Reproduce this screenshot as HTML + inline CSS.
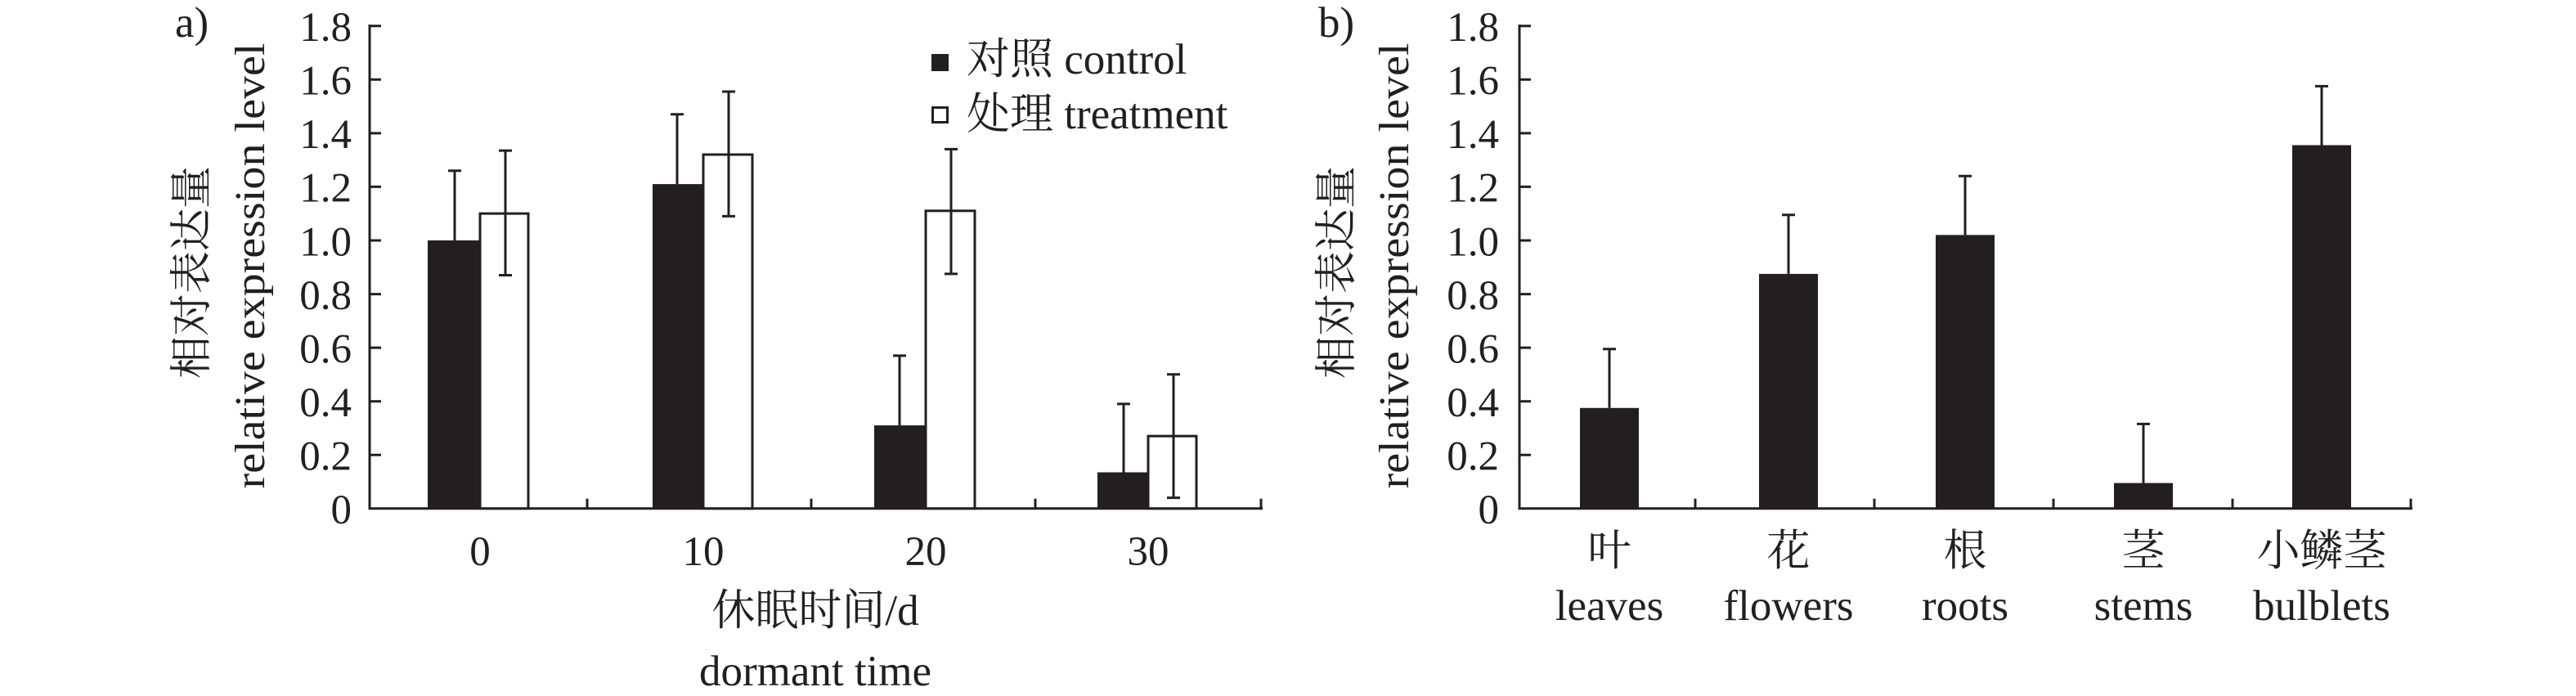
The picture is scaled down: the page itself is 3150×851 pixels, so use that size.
<!DOCTYPE html>
<html><head><meta charset="utf-8"><style>
html,body{margin:0;padding:0;background:#fff;}
svg{display:block;}
text{font-family:"Liberation Serif","Noto Serif CJK SC","Noto Sans CJK SC",serif;fill:#231f20;}
</style></head><body>
<svg width="3150" height="851" viewBox="0 0 3150 851" xmlns="http://www.w3.org/2000/svg">
<g stroke="#231f20" stroke-width="3" fill="none">
<!-- panel a axes -->
<line x1="452" y1="30" x2="452" y2="623"/>
<line x1="450.5" y1="621.7" x2="1544" y2="621.7"/>
<path d="M452 31.7h14M452 97.3h14M452 162.9h14M452 228.4h14M452 294h14M452 359.6h14M452 425.1h14M452 490.7h14M452 556.2h14"/>
<path d="M718 621.7v-12M992 621.7v-12M1266 621.7v-12M1542 621.7v-12"/>
<!-- panel b axes -->
<line x1="1858" y1="30" x2="1858" y2="623"/>
<line x1="1856.5" y1="621.7" x2="2950" y2="621.7"/>
<path d="M1858 31.7h14M1858 97.3h14M1858 162.9h14M1858 228.4h14M1858 294h14M1858 359.6h14M1858 425.1h14M1858 490.7h14M1858 556.2h14"/>
<path d="M2073 621.7v-12M2292 621.7v-12M2511 621.7v-12M2730 621.7v-12M2948 621.7v-12"/>
</g>
<!-- panel a bars: y(v)=621.7-327.8v -->
<g fill="#231f20">
<rect x="523" y="293.9" width="64" height="327.8"/>
<rect x="798" y="225.1" width="62" height="396.6"/>
<rect x="1069" y="520.1" width="63" height="101.6"/>
<rect x="1342" y="577.5" width="62" height="44.2"/>
</g>
<g fill="#fff" stroke="#231f20" stroke-width="3">
<rect x="587" y="261.1" width="59" height="360.6"/>
<rect x="860" y="189" width="60" height="432.7"/>
<rect x="1132" y="257.8" width="60" height="363.9"/>
<rect x="1404" y="533.2" width="59" height="88.5"/>
</g>
<g stroke="#231f20" stroke-width="3" fill="none">
<path d="M556 293.9V208.7M548 208.7h16"/>
<path d="M828 225.1V139.8M820 139.8h16"/>
<path d="M1100 520.1V434.9M1092 434.9h16"/>
<path d="M1374 577.5V493.9M1366 493.9h16"/>
<path d="M618 184.1V336.5M610 184.1h16M610 336.5h16"/>
<path d="M891 112V264.4M883 112h16M883 264.4h16"/>
<path d="M1163 182.4V334.9M1155 182.4h16M1155 334.9h16"/>
<path d="M1435 457.8V608.6M1427 457.8h16M1427 608.6h16"/>
</g>
<!-- panel b bars -->
<g fill="#231f20">
<rect x="1932" y="498.8" width="72" height="122.9"/>
<rect x="2151" y="334.9" width="72" height="286.8"/>
<rect x="2367" y="287.3" width="72" height="334.4"/>
<rect x="2585" y="590.6" width="72" height="31.1"/>
<rect x="2803" y="177.5" width="72" height="444.2"/>
</g>
<g stroke="#231f20" stroke-width="3" fill="none">
<path d="M1968 498.8V426.7M1960 426.7h16"/>
<path d="M2187 334.9V262.8M2179 262.8h16"/>
<path d="M2403 287.3V215.2M2395 215.2h16"/>
<path d="M2621 590.6V518.4M2613 518.4h16"/>
<path d="M2839 177.5V105.4M2831 105.4h16"/>
</g>
<!-- legend -->
<rect x="1139" y="66" width="21" height="21" fill="#231f20"/>
<rect x="1140.5" y="131.5" width="18" height="18" fill="#fff" stroke="#231f20" stroke-width="3"/>
<text x="1182" y="90" font-size="53">对照 control</text>
<text x="1182" y="157" font-size="53">处理 treatment</text>
<!-- panel labels -->
<text x="214" y="45" font-size="53">a)</text>
<text x="1612" y="45" font-size="53">b)</text>
<!-- y tick labels a -->
<g font-size="51" text-anchor="end">
<text x="430" y="50">1.8</text><text x="430" y="115.6">1.6</text><text x="430" y="181.2">1.4</text><text x="430" y="246.7">1.2</text><text x="430" y="312.3">1.0</text><text x="430" y="377.9">0.8</text><text x="430" y="443.4">0.6</text><text x="430" y="509">0.4</text><text x="430" y="574.5">0.2</text><text x="430" y="640">0</text>
<text x="1833" y="50">1.8</text><text x="1833" y="115.6">1.6</text><text x="1833" y="181.2">1.4</text><text x="1833" y="246.7">1.2</text><text x="1833" y="312.3">1.0</text><text x="1833" y="377.9">0.8</text><text x="1833" y="443.4">0.6</text><text x="1833" y="509">0.4</text><text x="1833" y="574.5">0.2</text><text x="1833" y="640">0</text>
</g>
<!-- y axis titles -->
<g font-size="52" text-anchor="middle">
<text transform="translate(252,333) rotate(-90)">相对表达量</text>
<text transform="translate(323,325) rotate(-90)" textLength="545" lengthAdjust="spacingAndGlyphs">relative expression level</text>
<text transform="translate(1652,333) rotate(-90)">相对表达量</text>
<text transform="translate(1722,325) rotate(-90)" textLength="545" lengthAdjust="spacingAndGlyphs">relative expression level</text>
</g>
<!-- x tick labels a -->
<g font-size="51" text-anchor="middle">
<text x="587" y="691">0</text><text x="860" y="691">10</text><text x="1132" y="691">20</text><text x="1404" y="691">30</text>
<text x="997" y="764" font-size="53">休眠时间/d</text>
<text x="997" y="838" font-size="53">dormant time</text>
</g>
<!-- x labels b -->
<g font-size="53" text-anchor="middle">
<text x="1968" y="691">叶</text><text x="2187" y="691">花</text><text x="2403" y="691">根</text><text x="2621" y="691">茎</text><text x="2839" y="691">小鳞茎</text>
<text x="1968" y="758">leaves</text><text x="2187" y="758">flowers</text><text x="2403" y="758">roots</text><text x="2621" y="758">stems</text><text x="2839" y="758">bulblets</text>
</g>
</svg>
</body></html>
